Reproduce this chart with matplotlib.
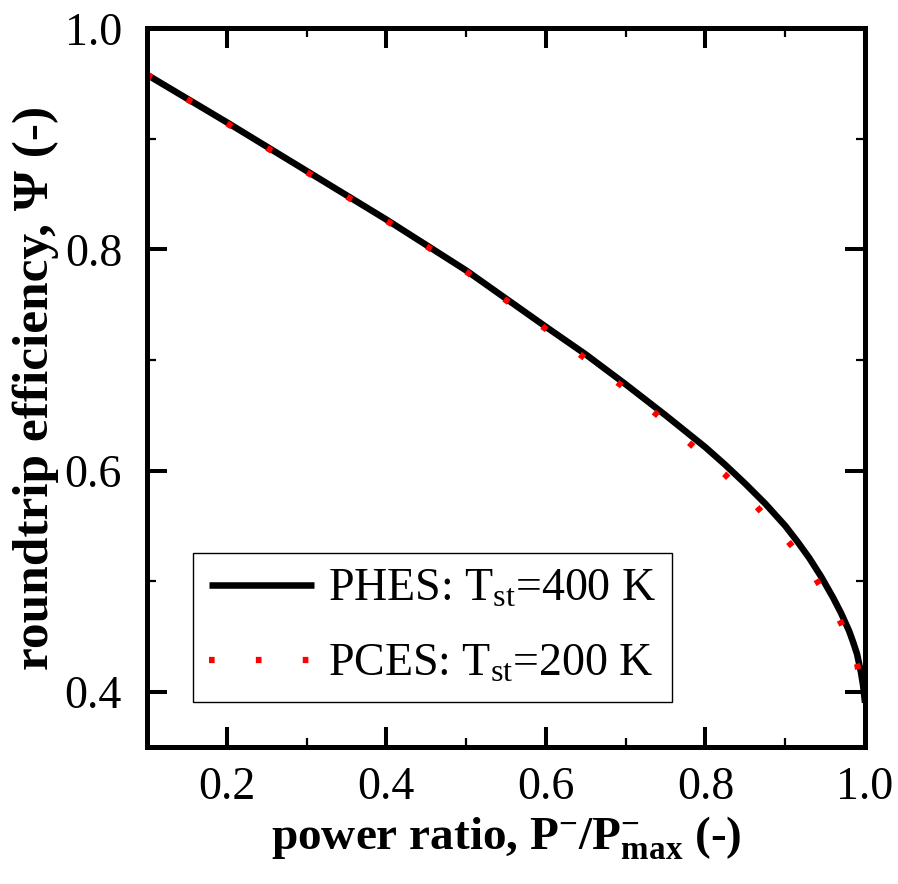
import matplotlib
matplotlib.use("Agg")
import matplotlib.pyplot as plt
from matplotlib.ticker import MultipleLocator

plt.rcParams['font.family'] = ['Liberation Serif', 'DejaVu Serif']
plt.rcParams['mathtext.fontset'] = 'custom'
plt.rcParams['mathtext.rm'] = 'Liberation Serif'
plt.rcParams['mathtext.it'] = 'Liberation Serif:italic'
plt.rcParams['mathtext.bf'] = 'Liberation Serif:bold'

# PHES, T_st = 400 K
phes_x = [0.1, 0.2, 0.3, 0.4, 0.5, 0.6, 0.65, 0.7, 0.75, 0.8, 0.825, 0.85, 0.875, 0.9,
          0.915, 0.93, 0.945, 0.96, 0.97, 0.98, 0.985, 0.99, 0.995, 0.9975, 1.0]
phes_y = [0.958, 0.915, 0.871, 0.827, 0.781, 0.730, 0.705, 0.678, 0.650, 0.621, 0.605,
          0.588, 0.570, 0.550, 0.536, 0.521, 0.504, 0.485, 0.471, 0.455, 0.445, 0.434,
          0.417, 0.406, 0.390]

# PCES, T_st = 200 K
pces_x = [0.1, 0.2, 0.3, 0.4, 0.5, 0.6, 0.7, 0.75, 0.8, 0.825, 0.85, 0.875, 0.9, 0.915,
          0.93, 0.945, 0.96, 0.97, 0.98, 0.985, 0.99, 0.995, 1.0]
pces_y = [0.958, 0.914, 0.870, 0.826, 0.780, 0.728, 0.674, 0.644, 0.612, 0.596, 0.578,
          0.559, 0.539, 0.526, 0.512, 0.494, 0.476, 0.462, 0.446, 0.436, 0.425, 0.408,
          0.385]

fig = plt.figure(figsize=(8.98, 8.84), dpi=100)
ax = fig.add_axes([0.1637, 0.155, 0.7996, 0.813])

ax.plot(phes_x, phes_y, color='black', lw=4.7, solid_capstyle='butt',
        label=r'PHES: T$_{\mathregular{st}}$=400 K')
ax.plot(pces_x, pces_y, color='red', lw=4.5, linestyle=(0, (0.9, 6.6)),
        dash_capstyle='butt', label=r'PCES: T$_{\mathregular{st}}$=200 K')

ax.set_xlim(0.1, 1.0)
ax.set_ylim(0.35, 1.0)
ax.xaxis.set_minor_locator(MultipleLocator(0.1))
ax.yaxis.set_minor_locator(MultipleLocator(0.1))
ax.set_xticks([0.2, 0.4, 0.6, 0.8, 1.0])
ax.set_yticks([0.4, 0.6, 0.8, 1.0])
ax.set_xticklabels(['0.2', '0.4', '0.6', '0.8', '1.0'])
ax.set_yticklabels(['0.4', '0.6', '0.8', '1.0'])

for s in ax.spines.values():
    s.set_linewidth(3.6)
ax.tick_params(which='both', direction='in', top=True, right=True)
ax.tick_params(which='major', length=14.4, width=2.9, labelsize=33)
ax.tick_params(which='minor', length=6.5, width=1.6)
ax.tick_params(axis='x', which='major', pad=14)
ax.tick_params(axis='y', which='major', pad=18)

ax.set_xlabel(r'power ratio, P$^{\mathbf{-}}$/P$^{\mathbf{-}}_{\mathbf{max}}$ (-)',
              fontsize=34, fontweight='bold', labelpad=4)
ax.set_ylabel('roundtrip efficiency, Ψ (-)', fontsize=37, fontweight='bold', labelpad=4)

leg = ax.legend(loc='lower left', bbox_to_anchor=(0.064, 0.063), borderaxespad=0,
                fontsize=33, frameon=True, fancybox=False, edgecolor='black',
                framealpha=1, handlelength=2.3, handletextpad=0.3,
                labelspacing=0.7, borderpad=0.35)
leg.get_frame().set_linewidth(1.0)

fig.savefig('out.png', dpi=100)
